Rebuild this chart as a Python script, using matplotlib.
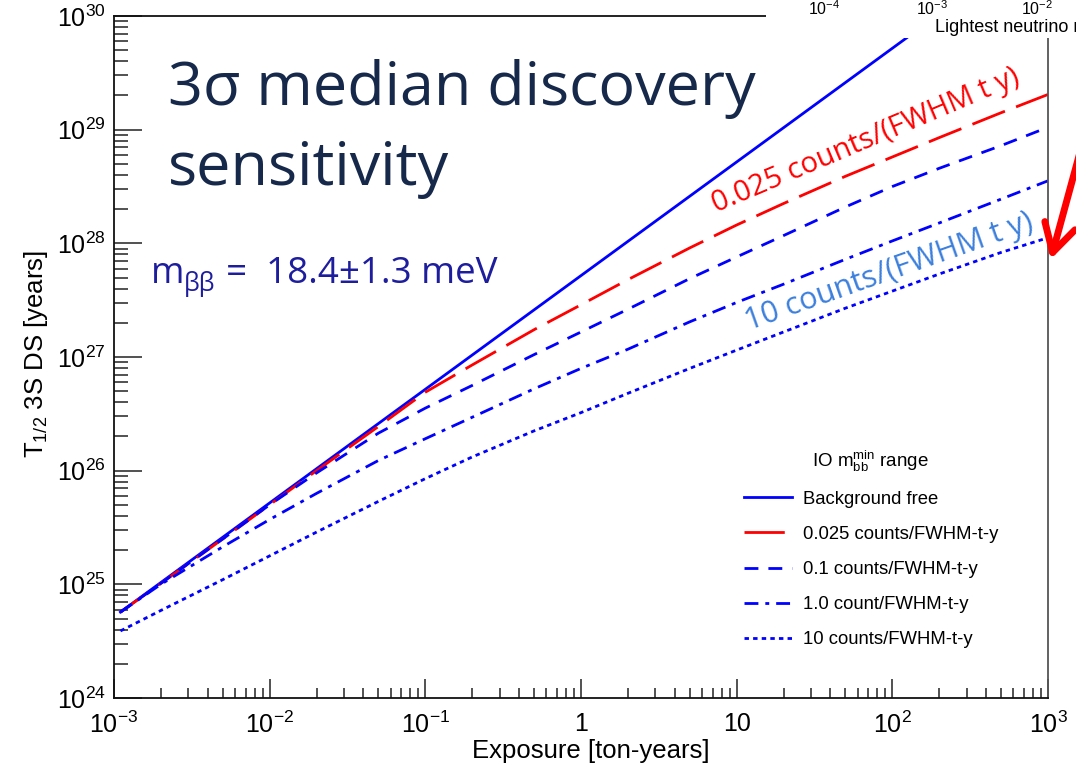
import numpy as np
import matplotlib
matplotlib.use("Agg")
import matplotlib.pyplot as plt
from matplotlib.ticker import LogLocator, FuncFormatter, NullFormatter
from matplotlib.patches import Rectangle, FancyArrowPatch
from matplotlib.lines import Line2D

plt.rcParams['font.family'] = ['Liberation Sans', 'DejaVu Sans']
plt.rcParams['mathtext.fontset'] = 'custom'
plt.rcParams['mathtext.rm'] = 'Liberation Sans'
plt.rcParams['mathtext.it'] = 'Liberation Sans:italic'
plt.rcParams['mathtext.bf'] = 'Liberation Sans:bold'

# background free sensitivity [years] vs exposure [ton-years]
exposure_bf = [1.1e-3, 1e-2, 0.1, 1, 10, 100, 1000]
t_bkg_free = [5.7e24, 5.2e25, 5.2e26, 5.2e27, 5.2e28, 5.2e29, 5.2e30]

# sensitivities with background [years]
exposure = [1.1e-3, 2e-3, 5e-3, 1e-2, 2e-2, 5e-2, 0.1, 0.2, 0.5, 1,
            2, 5, 10, 20, 50, 100, 200, 500, 1000]
t_0025 = [5.7e24, 1.02e25, 2.51e25, 5.01e25, 1.0e26, 2.45e26, 4.90e26, 8.51e26, 1.74e27, 2.88e27,
          4.79e27, 9.12e27, 1.45e28, 2.24e28, 3.89e28, 5.75e28, 8.51e28, 1.41e29, 2.04e29]
t_01 = [5.7e24, 1.02e25, 2.51e25, 5.01e25, 9.55e25, 2.14e26, 3.55e26, 5.62e26, 1.05e27, 1.66e27,
        2.63e27, 4.90e27, 7.59e27, 1.17e28, 2.09e28, 3.16e28, 4.57e28, 7.24e28, 1.05e29]
t_1 = [5.7e24, 1.0e25, 2.14e25, 3.72e25, 6.31e25, 1.23e26, 1.91e26, 2.95e26, 5.25e26, 7.94e26,
       1.17e27, 2.04e27, 3.02e27, 4.37e27, 7.24e27, 1.05e28, 1.51e28, 2.45e28, 3.55e28]
t_10 = [3.89e24, 5.89e24, 1.10e25, 1.78e25, 2.88e25, 5.37e25, 8.51e25, 1.32e26, 2.24e26, 3.24e26,
        4.79e26, 7.94e26, 1.15e27, 1.66e27, 2.69e27, 3.80e27, 5.37e27, 8.32e27, 1.12e28]

labels = ['Background free', '0.025 counts/FWHM-t-y', '0.1 counts/FWHM-t-y',
          '1.0 count/FWHM-t-y', '10 counts/FWHM-t-y']
legend_title = r'IO m$_{\rm bb}^{\rm min}$ range'

W, H = 1076, 772


def fx(px):
    return px / W


def fy(py):
    return 1 - py / H


fig = plt.figure(figsize=(W / 100, H / 100), dpi=100)
ax = fig.add_axes([fx(114), fy(698), fx(1048) - fx(114), fy(16) - fy(698)])

blue = '#0000ff'
red = '#ff0000'
lw = 2.0
styles = [dict(color=blue),
          dict(color=red, dashes=(12.6, 4.3)),
          dict(color=blue, dashes=(5, 3.6)),
          dict(color=blue, dashes=(5, 2.5, 1.4, 2.5)),
          dict(color=blue, dashes=(1.6, 1.5))]

ax.plot(exposure_bf, t_bkg_free, lw=lw, **styles[0])
for series, st in zip([t_0025, t_01, t_1, t_10], styles[1:]):
    ax.plot(exposure, series, lw=lw, **st)

ax.set_xscale('log')
ax.set_yscale('log')
ax.set_xlim(1e-3, 1e3)
ax.set_ylim(1e24, 1e30)


def xfmt(v, pos):
    if np.isclose(v, 1):
        return '1'
    if np.isclose(v, 10):
        return '10'
    return r'$10^{%d}$' % int(round(np.log10(v)))


def yfmt(v, pos):
    return r'$10^{%d}$' % int(round(np.log10(v)))


ax.xaxis.set_major_locator(LogLocator(base=10, numticks=20))
ax.xaxis.set_minor_locator(LogLocator(base=10, subs=np.arange(2, 10), numticks=100))
ax.yaxis.set_major_locator(LogLocator(base=10, numticks=20))
ax.yaxis.set_minor_locator(LogLocator(base=10, subs=np.arange(2, 10), numticks=100))
ax.xaxis.set_major_formatter(FuncFormatter(xfmt))
ax.yaxis.set_major_formatter(FuncFormatter(yfmt))
ax.xaxis.set_minor_formatter(NullFormatter())
ax.yaxis.set_minor_formatter(NullFormatter())

ax.tick_params(axis='both', which='both', direction='in', top=False, right=False,
               labelsize=18, color='#222222', width=1.1)
ax.tick_params(axis='y', which='major', length=20, pad=6)
ax.tick_params(axis='y', which='minor', length=10)
ax.tick_params(axis='x', which='major', length=14, pad=10)
ax.tick_params(axis='x', which='minor', length=7)

for side in ['left', 'bottom', 'top']:
    ax.spines[side].set_linewidth(1.3)
    ax.spines[side].set_color('#111111')
ax.spines['right'].set_linewidth(1.3)
ax.spines['right'].set_color('#555555')

ax.set_xlabel('Exposure [ton-years]', fontsize=18.5)
ax.xaxis.set_label_coords(0.51, -0.06)
ax.xaxis.label.set_va('top')
ax.set_ylabel(r'T$_{1/2}$ 3S DS [years]', fontsize=18.5)
ax.yaxis.set_label_coords(-0.068, 0.505)

# legend keys: the red key is a single solid stroke
handles = [Line2D([], [], lw=lw, **styles[0]),
           Line2D([], [], lw=lw, color=red, dashes=(14.5, 12)),
           Line2D([], [], lw=lw, **styles[2]),
           Line2D([], [], lw=lw, **styles[3]),
           Line2D([], [], lw=lw, **styles[4])]
leg = ax.legend(handles, labels, title=legend_title, loc='upper left',
                bbox_to_anchor=(0.674, 0.365), frameon=False, fontsize=13.3,
                title_fontsize=13.5, handlelength=2.6, handletextpad=0.6,
                labelspacing=0.98, borderpad=0, borderaxespad=0)
leg._legend_box.sep = 12

# headline and mass annotation
navy = '#16294b'
fig.text(fx(168), fy(105), '3\u03c3 median discovery', fontsize=44, color=navy,
         family='Open Sans', va='baseline')
fig.text(fx(168), fy(185), 'sensitivity', fontsize=44, color=navy,
         family='Open Sans', va='baseline')

mcol = '#1d1d9e'
fig.text(fx(151), fy(283), 'm', fontsize=26, color=mcol, family='Open Sans', va='baseline')
fig.text(fx(184), fy(291), '\u03b2\u03b2', fontsize=18, color=mcol, family='Open Sans', va='baseline')
fig.text(fx(226), fy(283), '=  18.4\u00b11.3 meV', fontsize=26.5, color=mcol,
         family='Open Sans', va='baseline')

# curve labels
ax.text(7.4, 1.85e28, '0.025 counts/(FWHM t y)', color=red, fontsize=21, rotation=23,
        rotation_mode='anchor', family='Open Sans', va='baseline', ha='left')
ax.text(12.0, 1.72e27, '10 counts/(FWHM t y)', color='#3b7fdc', fontsize=22, rotation=19.5,
        rotation_mode='anchor', family='Open Sans', va='baseline', ha='left')

# pasted strip of the neighbouring panel, top right
fig.add_artist(Rectangle((fx(766), fy(38)), fx(W) - fx(766), fy(0) - fy(38),
                         transform=fig.transFigure, facecolor='white', edgecolor='none',
                         zorder=5))
for px, lab in [(824, r'$10^{-4}$'), (932, r'$10^{-3}$'), (1037, r'$10^{-2}$')]:
    fig.text(fx(px), fy(15), lab, fontsize=11.5, ha='center', va='baseline', zorder=6)
fig.text(fx(935), fy(32), 'Lightest neutrino mass', fontsize=13, ha='left',
         va='baseline', zorder=6)

arrow = FancyArrowPatch(posA=(fx(1082), fy(145)), posB=(fx(1050), fy(262)),
                        transform=fig.transFigure, arrowstyle='->,head_length=0.8,head_width=0.45',
                        mutation_scale=25, color=red, lw=5, zorder=7)
fig.add_artist(arrow)

fig.savefig('out.png', dpi=100)
